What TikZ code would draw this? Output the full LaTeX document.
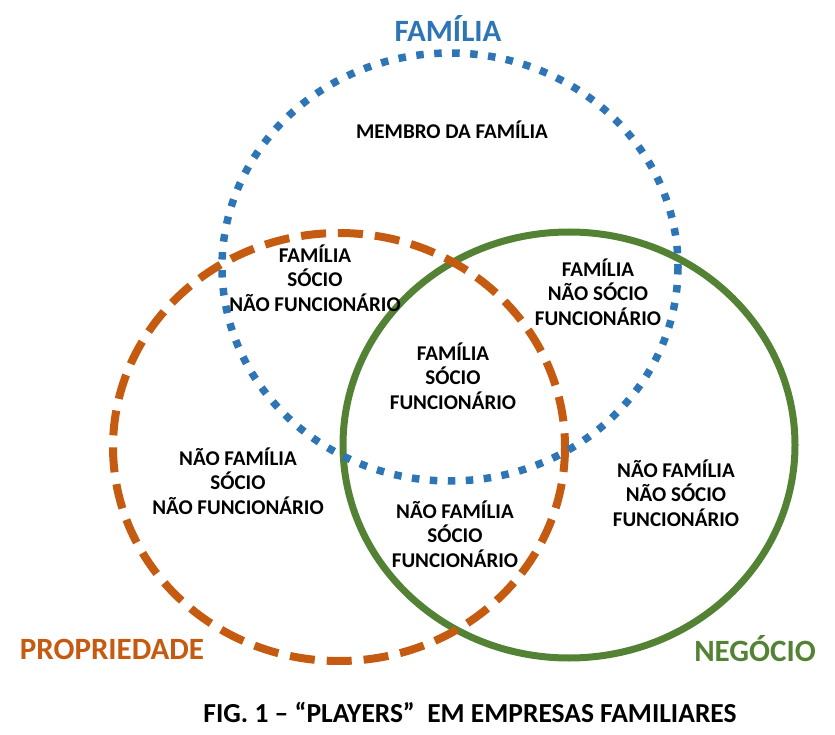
\documentclass[tikz,border=0pt]{standalone}
\usepackage{fontspec}
\setmainfont{Carlito}
\definecolor{famblue}{HTML}{2E75B6}
\definecolor{proporange}{HTML}{C55A11}
\definecolor{neggreen}{HTML}{548235}
\begin{document}
\begin{tikzpicture}[x=1pt,y=-1pt,
  lbl/.style={align=center,font=\bfseries\fontsize{21}{24.5}\selectfont,inner sep=0pt},
  ttl/.style={font=\bfseries\fontsize{31}{34}\selectfont,inner sep=0pt}]
\useasboundingbox (0,0) rectangle (835,735);
% circles
\draw[neggreen,line width=7pt] (569,445) ellipse [x radius=226, y radius=213];
\draw[proporange,line width=8pt,dash pattern=on 25pt off 12pt] (339,447) ellipse [x radius=226, y radius=214];
\draw[famblue,line width=7.5pt,dash pattern=on 7.5pt off 10.5pt] (450,267) ellipse [x radius=228, y radius=214];
% titles
\node[ttl,text=famblue] (tfam) at (448,28) {FAMÍLIA};
\node[ttl,text=proporange] (tprop) at (112,649) {PROPRIEDADE};
\node[ttl,text=neggreen] (tneg) at (755,649) {NEGÓCIO};
% region labels
\node[lbl] (membro) at (452,130) {MEMBRO DA FAMÍLIA};
\node[lbl] (fsnf) at (315,278) {FAMÍLIA\\SÓCIO\\NÃO FUNCIONÁRIO};
\node[lbl] (fnsf) at (598,292) {FAMÍLIA\\NÃO SÓCIO\\FUNCIONÁRIO};
\node[lbl] (fsf) at (453,376) {FAMÍLIA\\SÓCIO\\FUNCIONÁRIO};
\node[lbl] (nfsnf) at (238,481) {NÃO FAMÍLIA\\SÓCIO\\NÃO FUNCIONÁRIO};
\node[lbl] (nfsf) at (455,534) {NÃO FAMÍLIA\\SÓCIO\\FUNCIONÁRIO};
\node[lbl] (nfnsf) at (676,493) {NÃO FAMÍLIA\\NÃO SÓCIO\\FUNCIONÁRIO};
% caption
\node[font=\bfseries\fontsize{27.5}{30}\selectfont,inner sep=0pt] (cap) at (470,712) {FIG. 1 – “PLAYERS”\ \ EM EMPRESAS FAMILIARES};
\end{tikzpicture}
\end{document}
